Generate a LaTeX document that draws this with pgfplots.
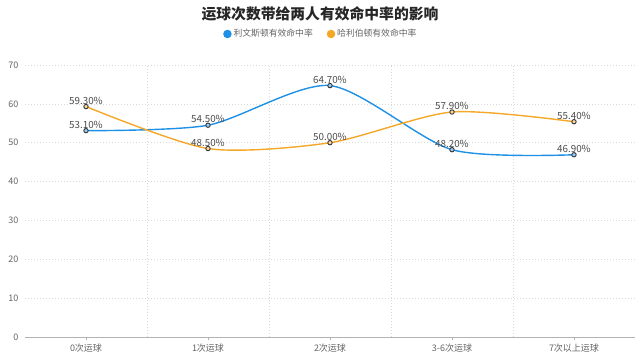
\documentclass[border=0pt]{standalone}
\usepackage{pgfplots}
\pgfplotsset{compat=1.18}
\usepackage{fontspec}
\setmainfont{Noto Sans CJK SC}
\definecolor{cblue}{RGB}{30,144,230}
\definecolor{corange}{RGB}{245,168,40}
\definecolor{tickgray}{RGB}{100,100,100}
\definecolor{gridgray}{RGB}{218,218,218}
\begin{document}
\begin{tikzpicture}
\begin{axis}[
  scale only axis, width=610pt, height=272pt,
  xmin=-0.5, xmax=4.5, ymin=0, ymax=70,
  ytick={0,10,...,70},
  xtick={0,1,2,3,4},
  xticklabels={0次运球,1次运球,2次运球,3-6次运球,7次以上运球},
  extra x ticks={0.5,1.5,2.5,3.5},
  extra x tick labels={},
  extra x tick style={grid=major, grid style={gridgray, dash pattern=on 1pt off 2pt, line width=0.6pt}, major tick length=0pt},
  ymajorgrids, grid style={gridgray, dash pattern=on 1pt off 2pt, line width=0.6pt},
  axis line style={draw=none},
  tick pos=bottom,
  xtick style={draw=gray!60, line width=0.6pt},
  major tick length=3pt,
  tick align=outside,
  ytick style={draw=none},
  ticklabel style={font=\fontsize{9}{10}\selectfont, text=tickgray},
  /pgf/number format/assume math mode=true,
  legend columns=2,
  legend style={at={(0.485,1.114)}, anchor=center, draw=none, fill=none,
    font=\fontsize{8.8}{10}\selectfont, text=tickgray,
    /tikz/every even column/.append style={column sep=12pt}},
  legend image code/.code={\fill[#1] (2pt,0pt) circle (3.5pt);},
  nodes near coords={\pgfmathprintnumber[fixed,fixed zerofill,precision=2]{\pgfplotspointmeta}\%},
  every node near coord/.append style={font=\fontsize{9.8}{10}\selectfont, text=black!70, yshift=-1.5pt},
  clip=false,
]
\coordinate (O) at (rel axis cs:0,0);
\draw[gray!60, line width=0.6pt] (rel axis cs:0,0) -- (rel axis cs:1,0);
\addplot[cblue, line width=1.4pt, smooth, tension=0.45, mark=*, mark size=2.2pt,
  mark options={draw=black!80, fill=cblue!45, line width=0.9pt}]
  coordinates {(0,53.1) (1,54.5) (2,64.7) (3,48.2) (4,46.9)};
\addlegendentry{利文斯顿有效命中率}
\addplot[corange, line width=1.4pt, smooth, tension=0.45, mark=*, mark size=2.2pt,
  mark options={draw=black!80, fill=corange!45, line width=0.9pt}]
  coordinates {(0,59.3) (1,48.5) (2,50.0) (3,57.9) (4,55.4)};
\addlegendentry{哈利伯顿有效命中率}
\end{axis}
\node[font=\fontsize{14.8}{18}\selectfont\bfseries, text=black!85] at ([shift={(295pt,323pt)}]O) {运球次数带给两人有效命中率的影响};
\pgfresetboundingbox
\path[use as bounding box] ([shift={(-25pt,-21pt)}]O) rectangle ([shift={(615pt,337pt)}]O);
\end{tikzpicture}
\end{document}
